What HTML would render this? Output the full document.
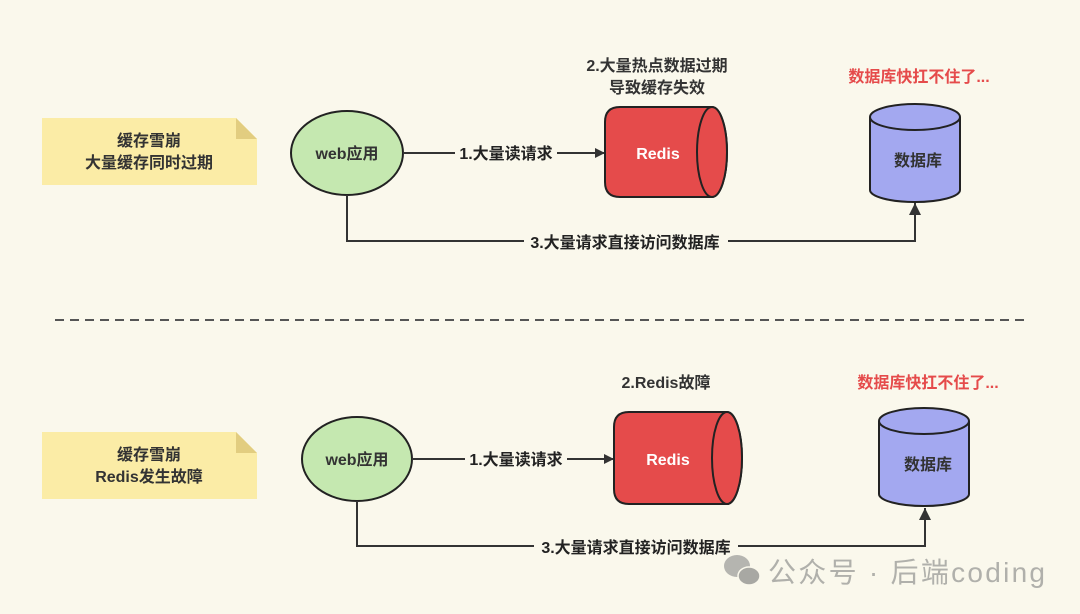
<!DOCTYPE html>
<html><head><meta charset="utf-8"><style>
html,body{margin:0;padding:0;background:#faf8ec;}
svg{display:block}
text{font-family:"Liberation Sans","Noto Sans CJK SC",sans-serif;font-weight:bold;}
</style></head><body>
<svg width="1080" height="614" viewBox="0 0 1080 614" xmlns="http://www.w3.org/2000/svg">
<defs>
<marker id="ar" markerWidth="10" markerHeight="10" refX="9" refY="5" orient="auto" markerUnits="userSpaceOnUse">
<path d="M0,0 L10,5 L0,10 z" fill="#333"/></marker>
<marker id="au" markerWidth="12" markerHeight="14" refX="12" refY="6" orient="auto" markerUnits="userSpaceOnUse">
<path d="M0,0 L12,6 L0,12 z" fill="#333"/></marker>
</defs>
<rect width="1080" height="614" fill="#faf8ec"/>

<!-- TOP -->
<path d="M42,118 H236 L257,139 V185 H42 Z" fill="#fbeca6"/>
<path d="M236,118 L257,139 H236 Z" fill="#e2cd80"/>
<text x="149" y="146" font-size="16" text-anchor="middle" fill="#333">缓存雪崩</text>
<text x="149" y="168" font-size="16" text-anchor="middle" fill="#333">大量缓存同时过期</text>

<ellipse cx="347" cy="153" rx="56" ry="42" fill="#c5e8b0" stroke="#222" stroke-width="2"/>
<text x="347" y="159" font-size="16" text-anchor="middle" fill="#333">web应用</text>

<line x1="403" y1="153" x2="604" y2="153" stroke="#333" stroke-width="2" marker-end="url(#ar)"/>
<rect x="455" y="142" width="102" height="22" fill="#faf8ec"/>
<text x="506" y="159" font-size="16" text-anchor="middle" fill="#222">1.大量读请求</text>

<path d="M620,107 H712 A15,45 0 0 1 712,197 H620 Q605,197 605,182 V122 Q605,107 620,107 Z" fill="#e54b4b" stroke="#222" stroke-width="2"/>
<ellipse cx="712" cy="152" rx="15" ry="45" fill="#e54b4b" stroke="#222" stroke-width="2"/>
<text x="658" y="159" font-size="16" text-anchor="middle" fill="#fff">Redis</text>

<text x="657" y="71" font-size="16" text-anchor="middle" fill="#333">2.大量热点数据过期</text>
<text x="657" y="93" font-size="16" text-anchor="middle" fill="#333">导致缓存失效</text>

<path d="M870,117 V190 A45,12 0 0 0 960,190 V117" fill="#a3a8f0" stroke="#222" stroke-width="2"/>
<ellipse cx="915" cy="117" rx="45" ry="13" fill="#a3a8f0" stroke="#222" stroke-width="2"/>
<text x="918" y="166" font-size="16" text-anchor="middle" fill="#333">数据库</text>
<text x="919" y="82" font-size="16" text-anchor="middle" fill="#e54b4b">数据库快扛不住了...</text>

<path d="M347,195 V241 H915 V203" fill="none" stroke="#333" stroke-width="2" marker-end="url(#au)"/>
<rect x="524" y="231" width="204" height="22" fill="#faf8ec"/>
<text x="625" y="248" font-size="16" text-anchor="middle" fill="#222">3.大量请求直接访问数据库</text>

<line x1="55" y1="320" x2="1030" y2="320" stroke="#555" stroke-width="2" stroke-dasharray="9,6"/>

<!-- BOTTOM -->
<path d="M42,432 H236 L257,453 V499 H42 Z" fill="#fbeca6"/>
<path d="M236,432 L257,453 H236 Z" fill="#e2cd80"/>
<text x="149" y="460" font-size="16" text-anchor="middle" fill="#333">缓存雪崩</text>
<text x="149" y="482" font-size="16" text-anchor="middle" fill="#333">Redis发生故障</text>

<ellipse cx="357" cy="459" rx="55" ry="42" fill="#c5e8b0" stroke="#222" stroke-width="2"/>
<text x="357" y="465" font-size="16" text-anchor="middle" fill="#333">web应用</text>

<line x1="412" y1="459" x2="613" y2="459" stroke="#333" stroke-width="2" marker-end="url(#ar)"/>
<rect x="465" y="448" width="102" height="22" fill="#faf8ec"/>
<text x="516" y="465" font-size="16" text-anchor="middle" fill="#222">1.大量读请求</text>

<path d="M629,412 H727 A15,46 0 0 1 727,504 H629 Q614,504 614,489 V427 Q614,412 629,412 Z" fill="#e54b4b" stroke="#222" stroke-width="2"/>
<ellipse cx="727" cy="458" rx="15" ry="46" fill="#e54b4b" stroke="#222" stroke-width="2"/>
<text x="668" y="465" font-size="16" text-anchor="middle" fill="#fff">Redis</text>

<text x="666" y="388" font-size="16" text-anchor="middle" fill="#333">2.Redis故障</text>

<path d="M879,421 V494 A45,12 0 0 0 969,494 V421" fill="#a3a8f0" stroke="#222" stroke-width="2"/>
<ellipse cx="924" cy="421" rx="45" ry="13" fill="#a3a8f0" stroke="#222" stroke-width="2"/>
<text x="928" y="470" font-size="16" text-anchor="middle" fill="#333">数据库</text>
<text x="928" y="388" font-size="16" text-anchor="middle" fill="#e54b4b">数据库快扛不住了...</text>

<path d="M357,501 V546 H925 V508" fill="none" stroke="#333" stroke-width="2" marker-end="url(#au)"/>
<rect x="534" y="536" width="204" height="22" fill="#faf8ec"/>
<text x="636" y="553" font-size="16" text-anchor="middle" fill="#222">3.大量请求直接访问数据库</text>

<!-- watermark -->
<ellipse cx="737" cy="566" rx="13" ry="11" fill="#b5b5b0"/>
<ellipse cx="749" cy="576" rx="11" ry="9" fill="#a8a8a3" stroke="#faf8ec" stroke-width="1.5"/>
<text x="768" y="582" font-size="28" fill="#b0b0ab" style="font-weight:normal" textLength="277" lengthAdjust="spacing">公众号 · 后端coding</text>
</svg>
</body></html>
